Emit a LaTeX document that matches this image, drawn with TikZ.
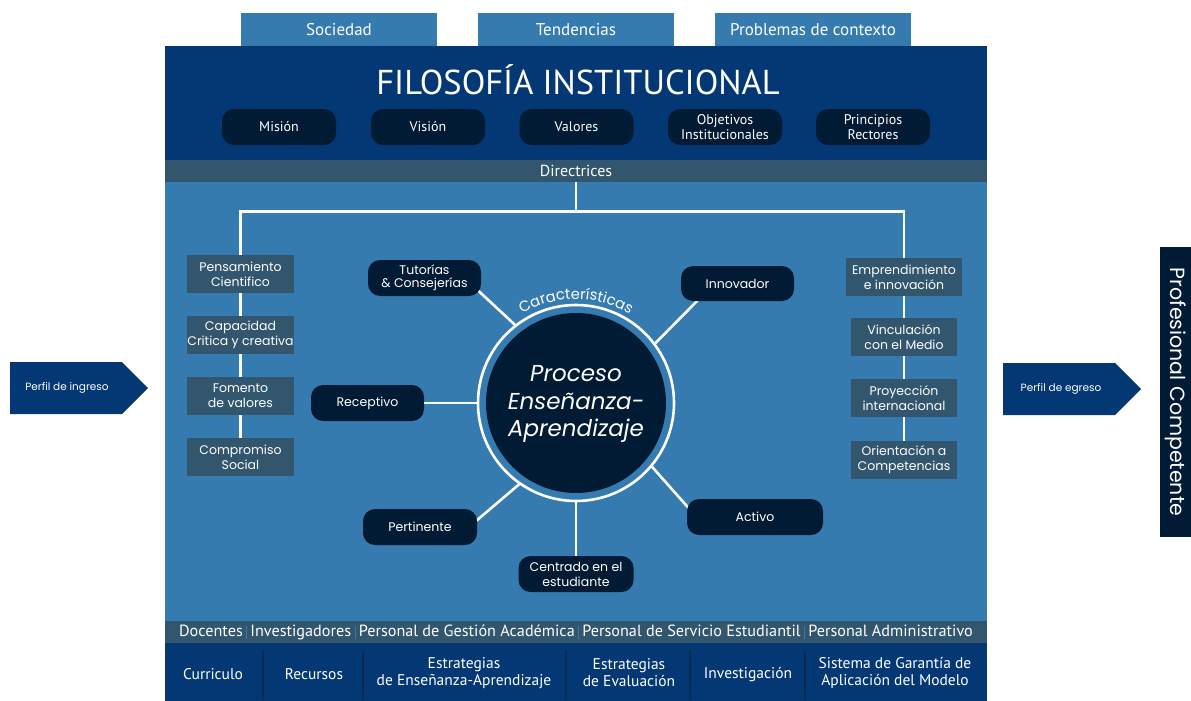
\documentclass[tikz,border=0pt]{standalone}
\usepackage{fontspec}
\setmainfont{Poppins}
\newfontfamily\cond{PT Sans}
\usetikzlibrary{decorations.text,calc}
\definecolor{dblue}{HTML}{033875}
\definecolor{sblue}{HTML}{367BB0}
\definecolor{gblue}{HTML}{33566F}
\definecolor{navy}{HTML}{001B33}
\definecolor{sepc}{HTML}{0B2A52}
\newcommand\stsep{\hspace{3.5pt}{\color{sblue}\rule[-2.5pt]{0.6pt}{13pt}}\hspace{3.5pt}}
\pgfdeclarelayer{bg}\pgfdeclarelayer{ln}\pgfsetlayers{bg,ln,main}
\begin{document}
\begin{tikzpicture}[x=1pt,y=-1pt,
 tab/.style={fill=sblue,text=white,minimum width=196pt,minimum height=33pt,inner sep=0pt,font=\cond\fontsize{17}{18}\selectfont},
 fpill/.style={fill=navy,rounded corners=12pt,text=white,minimum width=114pt,minimum height=36pt,inner sep=0pt,align=center,font=\cond\fontsize{14}{14.5}\selectfont},
 gbox/.style={fill=gblue,text=white,minimum height=38pt,inner sep=0pt,align=center,font=\fontsize{12.5}{15}\selectfont},
 cpill/.style={fill=navy,rounded corners=12pt,text=white,minimum height=36pt,inner sep=0pt,align=center,font=\fontsize{12.5}{15}\selectfont},
 conn/.style={draw=white,line width=2.6pt},
 bot/.style={text=white,align=center,font=\cond\fontsize{15.5}{17}\selectfont},
 arr/.style={fill=dblue},
 ]
\useasboundingbox (0,0) rectangle (1191,701);
\begin{pgfonlayer}{bg}
\fill[white] (0,0) rectangle (1191,701);
\fill[dblue] (165,46) rectangle (987,160);
\fill[sblue] (165,182) rectangle (987,621);
\fill[dblue] (165,643) rectangle (987,701);
\end{pgfonlayer}
% top tabs
\node[tab] (soc) at (339,29.5) {\raisebox{-2pt}{Sociedad}};
\node[tab] (ten) at (576,29.5) {\raisebox{-2pt}{Tendencias}};
\node[tab] (pro) at (813,29.5) {\raisebox{-2pt}{Problemas de contexto}};
\node[text=white,inner sep=0pt,font=\cond\fontsize{34.5}{38}\selectfont] (tit) at (578,80) {FILOSOFÍA INSTITUCIONAL};
\node[fpill] (mis) at (279,127) {Misión};
\node[fpill] (vis) at (428,127) {Visión};
\node[fpill] (val) at (576.5,127) {Valores};
\node[fpill] (obj) at (725,127) {Objetivos\\Institucionales};
\node[fpill] (pri) at (873,127) {Principios\\Rectores};
\node[fill=gblue,minimum width=822pt,minimum height=22pt,inner sep=0pt,text=white,font=\cond\fontsize{16}{17}\selectfont] (dir) at (576,171) {\raisebox{-1pt}{Directrices}};
% left column
\node[gbox,minimum width=107pt] (l1) at (240.5,274) {Pensamiento\\Cientifico};
\node[gbox,minimum width=107pt] (l2) at (240.5,335) {Capacidad\\Critica y creativa};
\node[gbox,minimum width=107pt] (l3) at (240.5,396) {Fomento\\de valores};
\node[gbox,minimum width=107pt] (l4) at (240.5,457) {Compromiso\\Social};
% right column
\node[gbox,minimum width=116pt] (r1) at (904,277) {Emprendimiento\\e innovación};
\node[gbox,minimum width=106pt] (r2) at (904,337) {Vinculación\\con el Medio};
\node[gbox,minimum width=106pt] (r3) at (904,398) {Proyección\\internacional};
\node[gbox,minimum width=106pt] (r4) at (904,460) {Orientación a\\Competencias};
% tree
\begin{pgfonlayer}{ln}
\draw[conn] (dir.south) -- ++(0,29) coordinate (j);
\draw[conn] (l4) -- (l4 |- j) -- (r4 |- j) -- (r4);
\end{pgfonlayer}
% circle
\node[circle,draw=white,line width=2.6pt,minimum size=196pt,inner sep=0pt] (ring) at (576,403) {};
\fill[navy] (ring.center) circle[radius=90];
\node[text=white,align=center,inner sep=0pt,font=\itshape\fontsize{23}{27.5}\selectfont] (pea) at (576,404) {Proceso\\Enseñanza-\\Aprendizaje};
\path[decorate,decoration={text along path,text align=center,text color=white,text={|\fontsize{14.8}{14.8}\selectfont|Características}}] (576,403) ++(200:104) arc[start angle=200,end angle=340,radius=104];
% spokes
\node[cpill,minimum width=113pt] (tut) at (424.5,278) {\raisebox{-1.5pt}{\shortstack{Tutorías\\\& Consejerías}}};
\node[cpill,minimum width=113pt,minimum height=35pt] (inn) at (737.5,283.5) {Innovador};
\node[cpill,minimum width=113pt] (rec) at (367.5,403) {Receptivo};
\node[cpill,minimum width=114pt] (per) at (420,527) {Pertinente};
\node[cpill,minimum width=115pt] (cen) at (576,574) {Centrado en el\\estudiante};
\node[cpill,minimum width=136pt] (act) at (755,517) {Activo};
\begin{pgfonlayer}{ln}
\draw[conn] (ring.128) -- ([shift={(-11,-13)}]tut.south east);
\draw[conn] (ring.37) -- ([shift={(21,-5)}]inn.south west);
\draw[conn] (ring.180) -- (rec.center);
\draw[conn] (ring.235) -- ([shift={(-7,-1)}]per.east);
\draw[conn] (ring.south) -- (cen.center);
\draw[conn] (ring.320) -- ([shift={(8,-2)}]act.west);
\end{pgfonlayer}
% staff bar
\node[fill=gblue,minimum width=822pt,minimum height=22pt,inner sep=0pt,text=white,font=\cond\fontsize{16.2}{17}\selectfont] (staff) at (576,632) {\raisebox{-1pt}{Docentes\stsep Investigadores\stsep Personal de Gestión Académica\stsep Personal de Servicio Estudiantil\stsep Personal Administrativo}};
% bottom row
\foreach \xx in {263,363,566,690,805} \draw[sepc,line width=1.2pt] (\xx,650) -- (\xx,699);
\node[bot] (b1) at (213,674.5) {Curriculo};
\node[bot] (b2) at (314,674.5) {Recursos};
\node[bot] (b3) at (464,673) {Estrategias\\de Enseñanza-Aprendizaje};
\node[bot] (b4) at (629,673) {Estrategias\\de Evaluación};
\node[bot] (b5) at (748,674.5) {Investigación};
\node[bot] (b6) at (895,673) {Sistema de Garantía de\\Aplicación del Modelo};
% arrows
\fill[arr] (10,362) -- (122,362) -- (148,388) -- (122,414) -- (10,414) -- cycle;
\node[text=white,font=\fontsize{10.5}{12}\selectfont] (pin) at (67,388) {Perfil de ingreso};
\fill[arr] (1003,363) -- (1115,363) -- (1141,389) -- (1115,415) -- (1003,415) -- cycle;
\node[text=white,font=\fontsize{10.5}{12}\selectfont] (peg) at (1061,389) {Perfil de egreso};
\fill[navy] (1160,247) rectangle (1191,537);
\node[rotate=-90,text=white,inner sep=0pt,font=\fontsize{20.5}{24}\selectfont] (pc) at (1176,392) {Profesional Competente};
\end{tikzpicture}
\end{document}
